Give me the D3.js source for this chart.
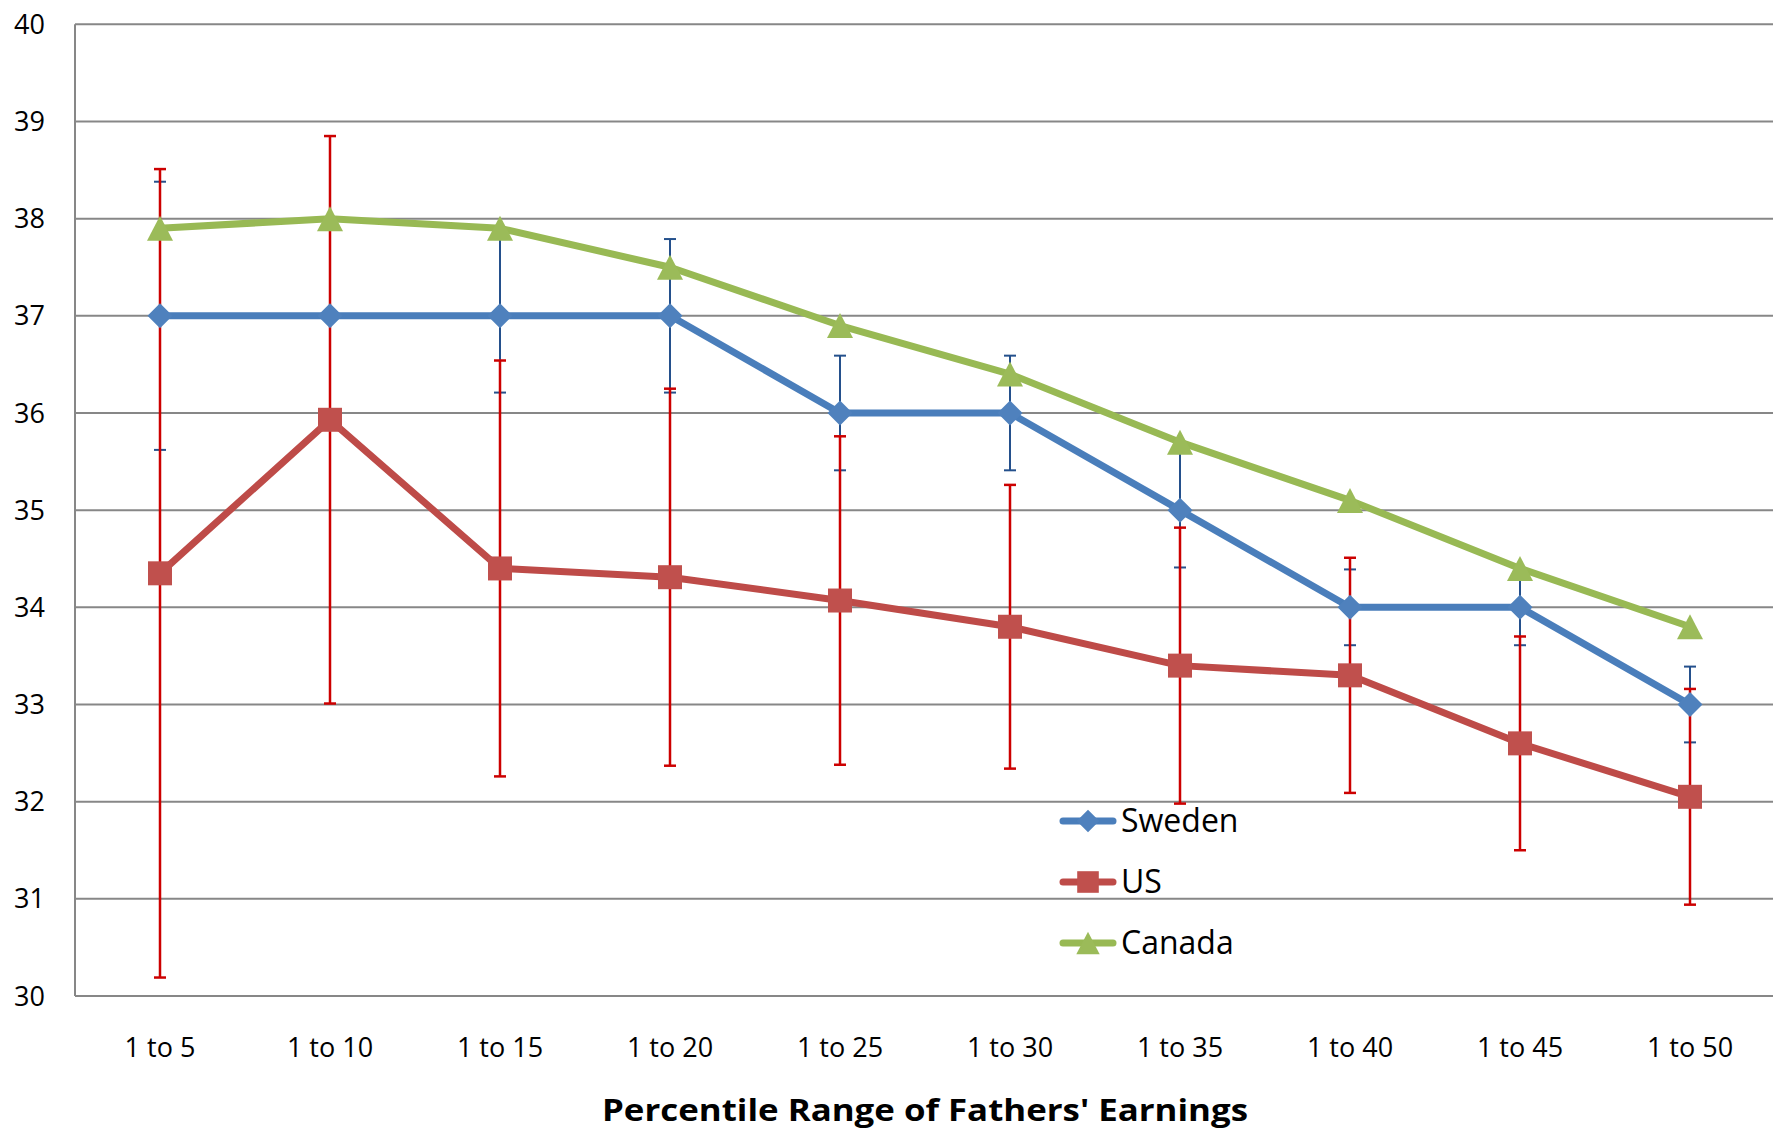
<!DOCTYPE html>
<html>
<head>
<meta charset="utf-8">
<script src="https://cdn.jsdelivr.net/npm/d3@7"></script>
<style>
  body { margin: 0; background: #fff; }
  text { font-family: "Open Sans", "Liberation Sans", sans-serif; fill: #000; }
</style>
</head>
<body>
<div id="chart"></div>
<script>
// categories on the x axis
var categories = ["1 to 5", "1 to 10", "1 to 15", "1 to 20", "1 to 25",
                  "1 to 30", "1 to 35", "1 to 40", "1 to 45", "1 to 50"];

// series values
var sweden = [37, 37, 37, 37, 36, 36, 35, 34, 34, 33];
var us     = [34.35, 35.93, 34.4, 34.31, 34.07, 33.8, 33.4, 33.3, 32.6, 32.05];
var canada = [37.9, 38.0, 37.9, 37.5, 36.9, 36.4, 35.7, 35.1, 34.4, 33.8];

// error bar half widths (null = no bar)
var swedenErr = [1.38, null, 0.79, 0.79, 0.59, 0.59, 0.59, 0.39, 0.39, 0.39];
var usErr     = [4.16, 2.92, 2.14, 1.94, 1.69, 1.46, 1.42, 1.21, 1.10, 1.11];

var yTicks = [30, 31, 32, 33, 34, 35, 36, 37, 38, 39, 40];

function init() {
    var w = 1773;
    var h = 1136;
    var left = 75, right = 1775, top = 24.3, bottom = 996;

    var svg = d3.select("#chart")
        .append("svg")
        .attr("width", w)
        .attr("height", h);

    var x = d3.scalePoint()
        .domain(categories)
        .range([left, right])
        .padding(0.5);

    var y = d3.scaleLinear()
        .domain([30, 40])
        .range([bottom, top]);

    // gridlines
    svg.append("g")
        .selectAll("line")
        .data(yTicks)
        .enter()
        .append("line")
        .attr("x1", left)
        .attr("x2", right)
        .attr("y1", function(d){ return y(d); })
        .attr("y2", function(d){ return y(d); })
        .attr("stroke", "#878787")
        .attr("stroke-width", 2);

    // left axis line
    svg.append("line")
        .attr("x1", left).attr("x2", left)
        .attr("y1", top).attr("y2", bottom)
        .attr("stroke", "#878787")
        .attr("stroke-width", 2);

    // y labels
    svg.append("g")
        .selectAll("text")
        .data(yTicks)
        .enter()
        .append("text")
        .attr("x", 45)
        .attr("y", function(d){ return y(d) + 9.6; })
        .attr("text-anchor", "end")
        .style("font-size", "27px")
        .text(function(d){ return d; });

    // x labels
    svg.append("g")
        .selectAll("text")
        .data(categories)
        .enter()
        .append("text")
        .attr("x", function(d){ return x(d); })
        .attr("y", 1057)
        .attr("text-anchor", "middle")
        .style("font-size", "27px")
        .text(function(d){ return d; });

    // axis title
    svg.append("text")
        .attr("x", (left + right) / 2)
        .attr("y", 1121)
        .attr("text-anchor", "middle")
        .attr("textLength", 646)
        .attr("lengthAdjust", "spacingAndGlyphs")
        .style("font-size", "30px")
        .style("font-weight", "bold")
        .text("Percentile Range of Fathers' Earnings");

    // error bars
    function errorBars(vals, errs, color, width) {
        var g = svg.append("g");
        var pts = categories.map(function(c, i){
            return {c: c, v: vals[i], e: errs[i]};
        }).filter(function(d){ return d.e != null; });

        g.selectAll("line.v")
            .data(pts)
            .enter()
            .append("line")
            .attr("x1", function(d){ return x(d.c); })
            .attr("x2", function(d){ return x(d.c); })
            .attr("y1", function(d){ return y(d.v + d.e); })
            .attr("y2", function(d){ return y(d.v - d.e); })
            .attr("stroke", color)
            .attr("stroke-width", width);

        [1, -1].forEach(function(s){
            g.selectAll("line.cap" + s)
                .data(pts)
                .enter()
                .append("line")
                .attr("x1", function(d){ return x(d.c) - 6; })
                .attr("x2", function(d){ return x(d.c) + 6; })
                .attr("y1", function(d){ return y(d.v + s * d.e); })
                .attr("y2", function(d){ return y(d.v + s * d.e); })
                .attr("stroke", color)
                .attr("stroke-width", width);
        });
    }
    errorBars(sweden, swedenErr, "#24508C", 2);
    errorBars(us, usErr, "#CC0000", 2.5);

    var markers = {
        diamond: "M0,-12.5L12.5,0L0,12.5L-12.5,0Z",
        square: "M-12,-12H12V12H-12Z",
        triangle: "M0,-12.5L13,12.5L-13,12.5Z"
    };

    var series = [
        {name: "Sweden", vals: sweden, line: "#4A7EBB", fill: "#4F81BD", marker: markers.diamond},
        {name: "US", vals: us, line: "#BE4B48", fill: "#C0504D", marker: markers.square},
        {name: "Canada", vals: canada, line: "#98B954", fill: "#9BBB59", marker: markers.triangle}
    ];

    var line = d3.line()
        .x(function(d){ return x(d.c); })
        .y(function(d){ return y(d.v); });

    series.forEach(function(s){
        var pts = categories.map(function(c, i){ return {c: c, v: s.vals[i]}; });
        svg.append("path")
            .datum(pts)
            .attr("d", line)
            .attr("fill", "none")
            .attr("stroke", s.line)
            .attr("stroke-width", 7)
            .attr("stroke-linejoin", "round");

        svg.append("g")
            .selectAll("path")
            .data(pts)
            .enter()
            .append("path")
            .attr("transform", function(d){ return "translate(" + x(d.c) + "," + y(d.v) + ")"; })
            .attr("d", s.marker)
            .attr("fill", s.fill);
    });

    // legend
    var legend = svg.append("g");
    series.forEach(function(s, i){
        var ly = 821 + i * 61;
        legend.append("line")
            .attr("x1", 1063).attr("x2", 1113)
            .attr("y1", ly).attr("y2", ly)
            .attr("stroke", s.line)
            .attr("stroke-width", 7)
            .attr("stroke-linecap", "round");
        legend.append("path")
            .attr("transform", "translate(1088," + ly + ") scale(0.9)")
            .attr("d", s.marker)
            .attr("fill", s.fill);
        legend.append("text")
            .attr("x", 1121)
            .attr("y", ly + 11)
            .style("font-size", "32px")
            .text(s.name);
    });
}

window.onload = init;
</script>
</body>
</html>
